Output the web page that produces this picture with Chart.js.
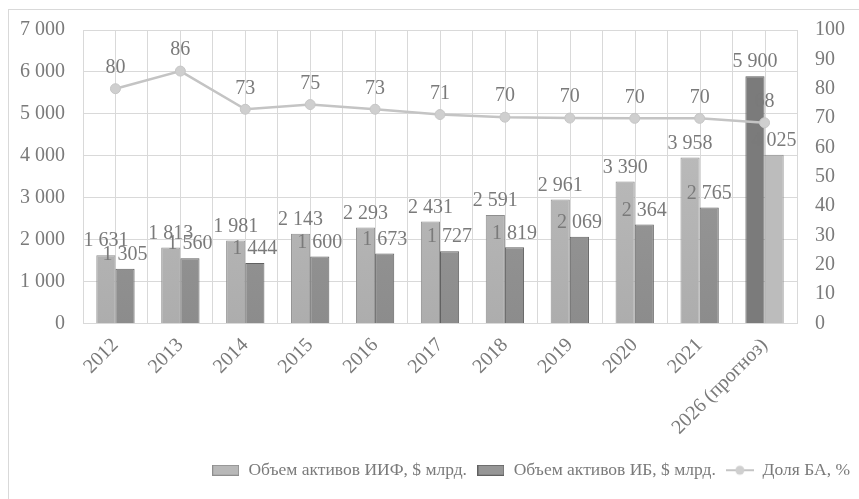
<!DOCTYPE html>
<html>
<head>
<meta charset="utf-8">
<script src="https://cdn.jsdelivr.net/npm/chart.js@4.4.0/dist/chart.umd.min.js"></script>
<style>
  html, body { margin: 0; padding: 0; background: #fff; }
  #wrap { position: relative; width: 859px; height: 499px; overflow: hidden; }
  #frame { position: absolute; left: 8px; top: 9px; width: 870px; height: 510px; border: 1px solid #d9d9d9; box-sizing: border-box; }
  canvas { position: absolute; left: 0; top: 0; }
</style>
</head>
<body>
<div id="wrap">
  <div id="frame"></div>
  <canvas id="chart" width="859" height="499"></canvas>
</div>
<script>
const years = ['2012', '2013', '2014', '2015', '2016', '2017', '2018', '2019', '2020', '2021', '2026 (прогноз)'];
const iifAssets = [1631, 1813, 1981, 2143, 2293, 2431, 2591, 2961, 3390, 3958, 5900];
const ibAssets = [1305, 1560, 1444, 1600, 1673, 1727, 1819, 2069, 2364, 2765, 4025];
const baShare = [80, 86, 73, 74.6, 73, 71.2, 70.3, 70, 69.9, 69.9, 68.4];

const leftTicks = [0, 1000, 2000, 3000, 4000, 5000, 6000, 7000];

const textColor = '#7a7a7a';
const gridColor = '#d9d9d9';
const fontFamily = '"Liberation Serif", "Times New Roman", serif';
const forecast = years.length - 1;

// thousands with a space, like "7 000"
const fmt = v => String(Math.round(v)).replace(/\B(?=(\d{3})+(?!\d))/g, ' ');

function barFill(top, bottom, solid) {
  return (c) => {
    const area = c.chart.chartArea;
    if (!area) return solid;
    const g = c.chart.ctx.createLinearGradient(0, area.top, 0, area.bottom);
    g.addColorStop(0, top);
    g.addColorStop(1, bottom);
    return g;
  };
}
const lightFill = barFill('#c2c2c2', '#adadad', '#b8b8b8');
const darkFill = barFill('#a0a0a0', '#8c8c8c', '#969696');

function swatch(fill, stroke) {
  const c = document.createElement('canvas');
  c.width = 27; c.height = 11;
  const g = c.getContext('2d');
  g.fillStyle = fill;
  g.fillRect(0.5, 0.5, 26, 10);
  g.strokeStyle = stroke;
  g.strokeRect(0.5, 0.5, 26, 10);
  return c;
}
function lineSwatch() {
  const c = document.createElement('canvas');
  c.width = 28; c.height = 12;
  const g = c.getContext('2d');
  g.strokeStyle = '#c4c4c4';
  g.lineWidth = 2;
  g.beginPath(); g.moveTo(0, 6); g.lineTo(28, 6); g.stroke();
  g.fillStyle = '#cfcfcf';
  g.beginPath(); g.arc(14, 6, 4.5, 0, Math.PI * 2); g.fill();
  return c;
}

// extra vertical line through the middle of each category
const centerLines = {
  id: 'centerLines',
  beforeDatasetsDraw(chart) {
    const { ctx, chartArea } = chart;
    const xs = chart.scales.x;
    ctx.save();
    ctx.strokeStyle = gridColor;
    ctx.lineWidth = 1;
    years.forEach((_, i) => {
      const px = Math.round(xs.getPixelForValue(i)) + 0.5;
      ctx.beginPath();
      ctx.moveTo(px, chartArea.top);
      ctx.lineTo(px, chartArea.bottom);
      ctx.stroke();
    });
    ctx.restore();
  }
};

const valueLabels = {
  id: 'valueLabels',
  afterDatasetsDraw(chart) {
    const ctx = chart.ctx;
    ctx.save();
    ctx.font = '20px ' + fontFamily;
    ctx.fillStyle = textColor;
    ctx.textAlign = 'center';
    ctx.textBaseline = 'bottom';
    chart.data.datasets.forEach((ds, i) => {
      const meta = chart.getDatasetMeta(i);
      meta.data.forEach((el, j) => {
        const isLine = ds.type === 'line';
        const txt = isLine ? String(Math.round(ds.data[j])) : fmt(ds.data[j]);
        ctx.fillText(txt, el.x, el.y - (isLine ? 11 : 4));
      });
    });
    ctx.restore();
  }
};

new Chart(document.getElementById('chart'), {
  type: 'bar',
  data: {
    labels: years,
    datasets: [
      {
        type: 'bar',
        label: 'Объем активов ИИФ, $ млрд.',
        data: iifAssets,
        yAxisID: 'y',
        order: 1,
        backgroundColor: c => c.dataIndex === forecast ? '#7b7b7b' : lightFill(c),
        borderColor: c => c.dataIndex === forecast ? '#5e5e5e' : '#8e8e8e',
        borderWidth: 1,
        categoryPercentage: 0.59,
        barPercentage: 1
      },
      {
        type: 'bar',
        label: 'Объем активов ИБ, $ млрд.',
        data: ibAssets,
        yAxisID: 'y',
        order: 1,
        backgroundColor: c => c.dataIndex === forecast ? '#bcbcbc' : darkFill(c),
        borderColor: c => c.dataIndex === forecast ? '#8e8e8e' : '#616161',
        borderWidth: 1,
        categoryPercentage: 0.59,
        barPercentage: 1
      },
      {
        type: 'line',
        label: 'Доля БА, %',
        data: baShare,
        yAxisID: 'y1',
        order: 0,
        borderColor: '#c4c4c4',
        borderWidth: 2.5,
        pointRadius: 5,
        pointBackgroundColor: '#cfcfcf',
        pointBorderColor: '#c6c6c6',
        pointBorderWidth: 1,
        tension: 0
      }
    ]
  },
  options: {
    responsive: false,
    animation: false,
    layout: { padding: { left: 2, right: -1, top: 24, bottom: 10 } },
    scales: {
      x: {
        offset: true,
        grid: { color: gridColor, offset: true, drawTicks: false },
        border: { color: gridColor },
        afterFit: axis => { axis.height += 2; },
        ticks: {
          color: textColor,
          font: { family: fontFamily, size: 20 },
          minRotation: 45,
          maxRotation: 45,
          padding: 10
        }
      },
      y: {
        position: 'left',
        min: 0,
        max: 7000,
        afterBuildTicks: axis => { axis.ticks = leftTicks.map(v => ({ value: v })); },
        grid: { color: gridColor, drawTicks: false },
        border: { display: false },
        ticks: {
          color: textColor,
          font: { family: fontFamily, size: 20 },
          padding: 18,
          callback: v => fmt(v)
        }
      },
      y1: {
        position: 'right',
        min: 0,
        max: 100,
        grid: { drawOnChartArea: false, drawTicks: false },
        border: { display: false },
        afterFit: axis => { axis.width -= 3; },
        ticks: {
          stepSize: 10,
          color: textColor,
          font: { family: fontFamily, size: 20 },
          padding: 18
        }
      }
    },
    plugins: {
      tooltip: { enabled: false },
      legend: {
        position: 'bottom',
        align: 'end',
        labels: {
          color: textColor,
          font: { family: fontFamily, size: 17.5 },
          usePointStyle: true,
          pointStyleWidth: 28,
          boxHeight: 12,
          padding: 10,
          generateLabels: () => [
            { text: 'Объем активов ИИФ, $ млрд.', pointStyle: swatch('#b8b8b8', '#8e8e8e'), fontColor: textColor, datasetIndex: 0, lineWidth: 0 },
            { text: 'Объем активов ИБ, $ млрд.', pointStyle: swatch('#969696', '#616161'), fontColor: textColor, datasetIndex: 1, lineWidth: 0 },
            { text: 'Доля БА, %', pointStyle: lineSwatch(), fontColor: textColor, datasetIndex: 2, lineWidth: 0 }
          ]
        }
      }
    }
  },
  plugins: [centerLines, valueLabels]
});
</script>
</body>
</html>
